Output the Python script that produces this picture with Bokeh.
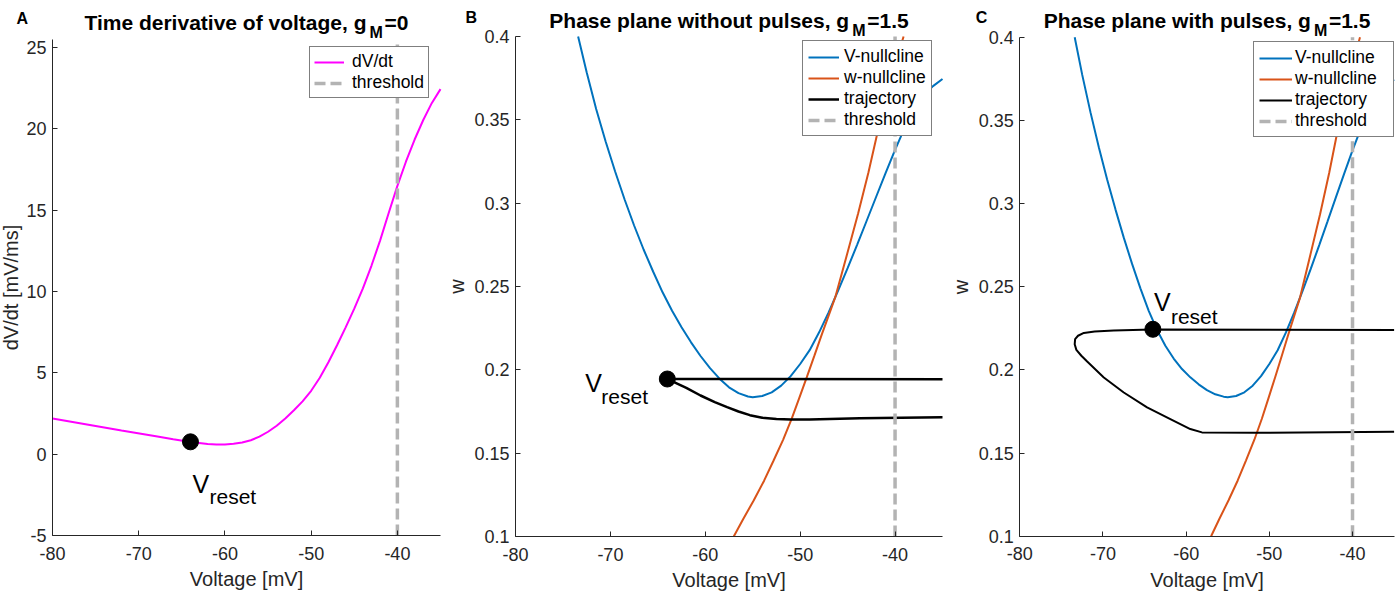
from bokeh.plotting import figure
from bokeh.models import Label, Legend, LegendItem, FixedTicker, Range1d
from bokeh.layouts import row
from bokeh.embed import file_html
from bokeh.resources import INLINE

FONT = "Liberation Sans"
AXC = "#262626"

# ---------------- data ----------------
# Panel A: dV/dt vs V (g_M = 0)
vA = [-80, -76, -72, -68, -66, -64, -62, -61, -60, -59, -58, -57, -56, -55, -54,
      -53, -52, -51, -50, -49, -48, -47, -46, -45, -44, -43, -42, -41, -40, -39,
      -38, -37, -36, -35]
dvdtA = [2.2, 1.83, 1.46, 1.1, 0.92, 0.75, 0.62, 0.6, 0.6, 0.64, 0.72, 0.86, 1.08,
         1.38, 1.75, 2.2, 2.7, 3.25, 3.9, 4.7, 5.65, 6.7, 7.8, 8.95, 10.2, 11.6,
         13.15, 14.85, 16.5, 18.0, 19.35, 20.55, 21.6, 22.45]
resetA = (-64, 0.76)

# V-nullcline
vnullB_v = [-73.4, -72.5, -71.5, -70.5, -69.5, -68.5, -67.5, -66.5, -65.5, -64.5,
            -63.5, -62.5, -61.5, -60.5, -59.5, -58.5, -57.5, -56.5, -55.5, -55.0,
            -54, -53, -52, -51, -50, -49, -48, -47, -46, -45, -44, -43, -42, -41,
            -40, -39, -38, -37, -36, -35]
vnullB_w = [0.400, 0.3785, 0.3565, 0.3370, 0.3190, 0.3022, 0.2866, 0.2722, 0.2590,
            0.2465, 0.2355, 0.2255, 0.2165, 0.2083, 0.2010, 0.1947, 0.1895, 0.1860,
            0.1840, 0.1836, 0.1843, 0.1865, 0.1905, 0.1962, 0.2035, 0.2118, 0.2225,
            0.2345, 0.2475, 0.2610, 0.2750, 0.2893, 0.3037, 0.3180, 0.3320, 0.3450,
            0.3560, 0.3645, 0.3702, 0.3745]
# V-nullcline
vnullC_v = [-73.4, -72.5, -71.5, -70.5, -69.5, -68.5, -67.5, -66.5, -65.5, -64.5,
            -63.5, -62.5, -61.5, -60.5, -59.5, -58.5, -57.5, -56.5, -55.5, -55.0,
            -54, -53, -52, -51, -50, -49, -48, -47, -46, -45, -44, -43, -42, -41,
            -40, -39, -38, -37, -36, -35]
vnullC_w = [0.400, 0.3775, 0.3548, 0.3338, 0.3145, 0.2965, 0.2795, 0.2637, 0.2490,
            0.2355, 0.2240, 0.2145, 0.2068, 0.2005, 0.1955, 0.1913, 0.1878, 0.1853,
            0.1839, 0.1836, 0.1843, 0.1865, 0.1905, 0.1962, 0.2035, 0.2118, 0.2225,
            0.2345, 0.2475, 0.2610, 0.2750, 0.2893, 0.3037, 0.3180, 0.3320, 0.3450,
            0.3560, 0.3645, 0.3702, 0.3745]
# w-nullcline (same in B and C)
wnull_v = [-57.0, -56.0, -54.9, -53.8, -52.8, -51.8, -50.9, -50.1, -49.3, -48.5,
           -47.7, -47.0, -46.3, -45.1, -43.9, -42.8, -41.8, -41.1, -40.4, -39.7, -39.1]
wnull_w = [0.100, 0.1105, 0.1216, 0.1335, 0.1456, 0.1580, 0.1706, 0.1830, 0.1956,
           0.2085, 0.2216, 0.2325, 0.2436, 0.2685, 0.2936, 0.3185, 0.3436, 0.3605,
           0.3776, 0.3890, 0.400]

# Panel B trajectory (without pulses)
trajB_v = [-35, -64, -63.3, -62, -60.5, -59, -57.7, -56.5, -55.3, -54, -52.5, -51,
           -49.0, -43.7, -35]
trajB_w = [0.1944, 0.1945, 0.1926, 0.1892, 0.1846, 0.1806, 0.1776, 0.1750, 0.1728,
           0.1713, 0.1705, 0.1702, 0.1702, 0.1710, 0.1716]
resetB = (-64, 0.1945)

# Panel C trajectory (with pulses)
trajC_v = [-35, -64.1, -68.7, -71.0, -72.3, -73.0, -73.35, -73.4, -73.2, -72.6,
           -71.9, -69.9, -67.5, -64.7, -61.9, -59.5, -58.1, -51.6, -35]
trajC_w = [0.2240, 0.2242, 0.2236, 0.2230, 0.2222, 0.2205, 0.2185, 0.2154, 0.2120,
           0.2085, 0.2050, 0.1954, 0.1864, 0.1774, 0.1704, 0.1644, 0.1624, 0.1622,
           0.1628]
resetC = (-64, 0.2244)

threshold = -40
x_lim = (-80, -35)
yA_lim = (-5, 25.5)
yBC_lim = (0.1, 0.4)
x_ticks = [-80, -70, -60, -50, -40]
x_labels = ["-80", "-70", "-60", "-50", "-40"]
yA_ticks = [-5, 0, 5, 10, 15, 20, 25]
yA_labels = ["-5", "0", "5", "10", "15", "20", "25"]
yBC_ticks = [0.1, 0.15, 0.2, 0.25, 0.3, 0.35, 0.4]
yBC_labels = ["0.1", "0.15", "0.2", "0.25", "0.3", "0.35", "0.4"]

MAG = "#FF00FF"
BLUE = "#0072BD"
ORANGE = "#D95319"
GRAY = "#B3B3B3"

H = 593


def span_range(v0, v1, p0, p1, size):
    """range such that v0 sits at pixel p0 and v1 at pixel p1 of a canvas 'size' long"""
    scale = (p1 - p0) / (v1 - v0)
    start = v0 - p0 / scale
    return Range1d(start, start + size / scale)


def make_fig(W, xlim, ylim, xpix, ypix, ylab_standoff):
    xr = span_range(xlim[0], xlim[1], xpix[0], xpix[1], W)
    yr = span_range(ylim[0], ylim[1], H - ypix[1], H - ypix[0], H)
    p = figure(width=W, height=H, x_range=xr, y_range=yr,
               output_backend="svg", toolbar_location=None,
               min_border_left=0, min_border_right=0, min_border_top=0,
               min_border_bottom=0)
    p.title.visible = False
    p.outline_line_color = None
    p.grid.visible = False
    p.background_fill_color = "white"
    p.border_fill_color = "white"
    for ax in (p.xaxis[0], p.yaxis[0]):
        ax.major_tick_in = 5
        ax.major_tick_out = 0
        ax.minor_tick_line_color = None
        ax.axis_line_color = AXC
        ax.major_tick_line_color = AXC
        ax.major_label_text_font = FONT
        ax.major_label_text_font_size = "18px"
        ax.major_label_text_color = AXC
        ax.axis_label_text_font = FONT
        ax.axis_label_text_font_size = "20px"
        ax.axis_label_text_font_style = "normal"
        ax.axis_label_text_color = AXC
    xa, ya = p.xaxis[0], p.yaxis[0]
    xa.fixed_location = ylim[0]
    xa.bounds = xlim
    ya.fixed_location = xlim[0]
    ya.bounds = ylim
    xa.ticker = FixedTicker(ticks=x_ticks)
    xa.major_label_overrides = dict(zip(x_ticks, x_labels))
    xa.major_label_standoff = 11
    xa.axis_label_standoff = 5
    ya.major_label_standoff = 6
    ya.axis_label_standoff = ylab_standoff
    xa.axis_label = "Voltage [mV]"
    return p


def corner_label(p, corner, dx, dy, text, size, bold=False, align="left"):
    p.add_layout(Label(x=corner[0], y=corner[1], x_offset=dx, y_offset=dy, text=text,
                       text_font=FONT, text_font_size=size,
                       text_font_style="bold" if bold else "normal",
                       text_align=align, text_baseline="alphabetic", text_color="black"))


def add_title(p, corner, letter, lx, ly, main, gx, my, sy, rest):
    corner_label(p, corner, lx, ly, letter, "16px", bold=True)
    corner_label(p, corner, gx, my, main, "21px", bold=True, align="right")
    corner_label(p, corner, gx + 3, sy, "M", "16px", bold=True)
    corner_label(p, corner, gx + 18, my, rest, "21px", bold=True)


def add_vreset(p, pt, vx, vy, rx, ry):
    corner_label(p, pt, vx, vy, "V", "25px")
    corner_label(p, pt, rx, ry, "reset", "21px")


def make_legend(p, items, loc, gw, standoff, pad, lw):
    leg = Legend(items=items, location=loc, label_text_font=FONT,
                 label_text_font_size="17.5px", label_text_color="black",
                 glyph_width=gw, glyph_height=20, label_height=20, label_width=lw,
                 label_standoff=standoff, padding=pad, spacing=0, margin=0,
                 border_line_color="black", border_line_width=1,
                 background_fill_color="white", background_fill_alpha=1)
    p.add_layout(leg)


DASH = "11 5"

# ---------------- Panel A ----------------
pA = make_fig(445, x_lim, yA_lim, (52, 440), (39, 535), 1)
pA.yaxis[0].ticker = FixedTicker(ticks=yA_ticks)
pA.yaxis[0].major_label_overrides = dict(zip(yA_ticks, yA_labels))
pA.yaxis[0].axis_label = "dV/dt [mV/ms]"
rA = pA.line(vA, dvdtA, line_color=MAG, line_width=2)
tA = pA.line([threshold, threshold], list(yA_lim), line_color=GRAY, line_width=3.5,
             line_dash=DASH)
pA.scatter([resetA[0]], [resetA[1]], size=16, color="black")
add_vreset(pA, resetA, 2, -42, 19, -55)
cornerA = (x_lim[0], yA_lim[1])
add_title(pA, cornerA, "A", -36, 21, "Time derivative of voltage, g", 314, 17.3, 7, "=0")
make_legend(pA, [LegendItem(label="dV/dt", renderers=[rA]),
                 LegendItem(label="threshold", renderers=[tA])],
            (309, 495), 30, 8, 4, 72)

# ---------------- Panel B ----------------
pB = make_fig(502, x_lim, yBC_lim, (70, 497), (36, 536), 3)
pB.yaxis[0].ticker = FixedTicker(ticks=yBC_ticks)
pB.yaxis[0].major_label_overrides = dict(zip(yBC_ticks, yBC_labels))
pB.yaxis[0].axis_label = "w"
bV = pB.line(vnullB_v, vnullB_w, line_color=BLUE, line_width=2)
bW = pB.line(wnull_v, wnull_w, line_color=ORANGE, line_width=2)
bT = pB.line(trajB_v, trajB_w, line_color="black", line_width=2.5)
bTh = pB.line([threshold, threshold], list(yBC_lim), line_color=GRAY, line_width=3.5,
              line_dash=DASH)
pB.scatter([resetB[0]], [resetB[1]], size=16, color="black")
add_vreset(pB, resetB, -82, -4, -66, -17)
cornerBC = (x_lim[0], yBC_lim[1])
add_title(pB, cornerBC, "B", -50, 19, "Phase plane without pulses, g", 333.7, 16, 6, "=1.5")
make_legend(pB, [LegendItem(label="V-nullcline", renderers=[bV]),
                 LegendItem(label="w-nullcline", renderers=[bW]),
                 LegendItem(label="trajectory", renderers=[bT]),
                 LegendItem(label="threshold", renderers=[bTh])],
            (357, 457), 31, 5, 5, 82)

# ---------------- Panel C ----------------
pC = make_fig(448, x_lim, yBC_lim, (72.3, 446.6), (36.7, 535.7), 3)
pC.yaxis[0].ticker = FixedTicker(ticks=yBC_ticks)
pC.yaxis[0].major_label_overrides = dict(zip(yBC_ticks, yBC_labels))
pC.yaxis[0].axis_label = "w"
cV = pC.line(vnullC_v, vnullC_w, line_color=BLUE, line_width=2)
cW = pC.line(wnull_v, wnull_w, line_color=ORANGE, line_width=2)
cT = pC.line(trajC_v, trajC_w, line_color="black", line_width=2)
cTh = pC.line([threshold, threshold], list(yBC_lim), line_color=GRAY, line_width=3.5,
              line_dash=DASH)
pC.scatter([resetC[0]], [resetC[1]], size=16, color="black")
add_vreset(pC, resetC, 1, 27, 18, 13)
add_title(pC, cornerBC, "C", -44, 20, "Phase plane with pulses, g", 291.1, 16.7, 6.7, "=1.5")
make_legend(pC, [LegendItem(label="V-nullcline", renderers=[cV]),
                 LegendItem(label="w-nullcline", renderers=[cW]),
                 LegendItem(label="trajectory", renderers=[cT]),
                 LegendItem(label="threshold", renderers=[cTh])],
            (306, 456), 33, 3, 5, 93)

layout = row(pA, pB, pC)
open("out.html", "w").write(file_html(layout, INLINE))
